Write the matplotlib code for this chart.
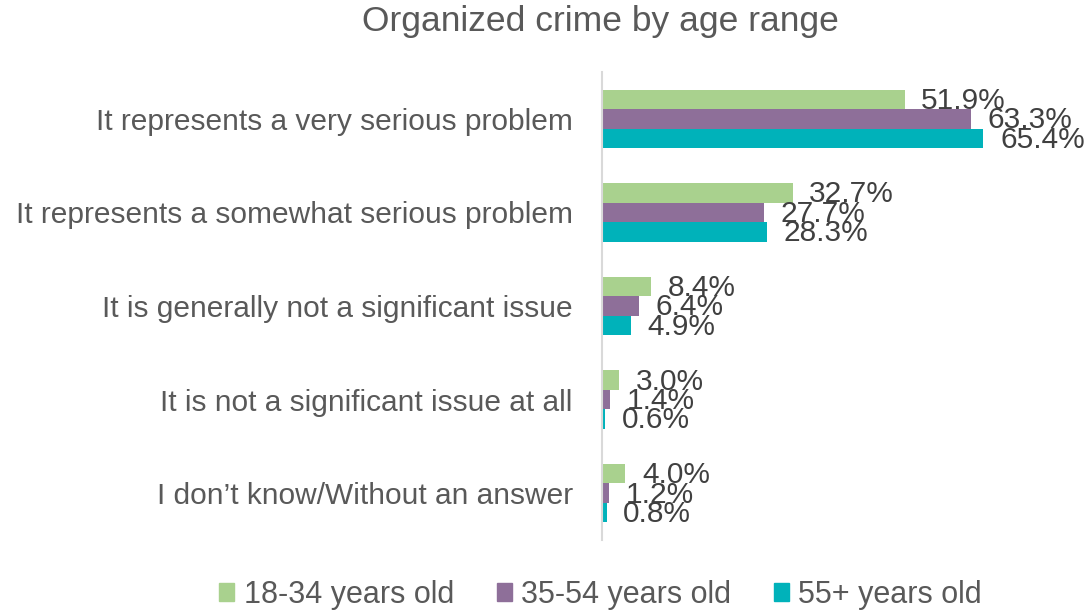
import numpy as np
import matplotlib.pyplot as plt
from matplotlib.patches import Patch

categories = ['It represents a very serious problem',
              'It represents a somewhat serious problem',
              'It is generally not a significant issue',
              'It is not a significant issue at all',
              'I don\u2019t know/Without an answer']
series_names = ['18-34 years old', '35-54 years old', '55+ years old']
young = [51.9, 32.7, 8.4, 3.0, 4.0]
middle = [63.3, 27.7, 6.4, 1.4, 1.2]
old = [65.4, 28.3, 4.9, 0.6, 0.8]
colors = ['#A9D18E', '#8E6F99', '#00B2BA']

plt.rcParams['font.family'] = ['Liberation Sans', 'DejaVu Sans']

fig = plt.figure(figsize=(10.86, 6.10), dpi=100)
ax = fig.add_axes([602/1086, 70/610, 1 - 602/1086, 468/610])

y = np.arange(len(categories))
h = 0.208
for i, vals in enumerate([young, middle, old]):
    pos = y + (i - 1) * h
    ax.barh(pos, vals, height=h, color=colors[i], edgecolor='none')
    for p, v in zip(pos, vals):
        ax.annotate('%.1f%%' % v, (v, p), xytext=(12, -1), textcoords='offset points',
                    ha='left', va='center', fontsize=21.5, color='#404040', clip_on=False)

ax.set_ylim(len(categories) - 0.5, -0.5)
ax.set_xlim(0, 83)
ax.set_yticks(y)
ax.set_yticklabels(categories, fontsize=21.5, color='#595959')
ax.tick_params(axis='y', length=0, pad=21)
ax.set_xticks([])
for s in ['top', 'right', 'bottom']:
    ax.spines[s].set_visible(False)
ax.spines['left'].set_color('#D9D9D9')
ax.spines['left'].set_linewidth(1.5)

fig.text(0.553, 0.965, 'Organized crime by age range', ha='center', va='center',
         fontsize=25.5, color='#595959')

handles = [Patch(color=c) for c in colors]
fig.legend(handles, series_names, loc='center', bbox_to_anchor=(0.553, 0.025),
           ncol=3, frameon=False, fontsize=22, labelcolor='#595959',
           handlelength=0.5, handleheight=0.5, handletextpad=0.3, columnspacing=1.4)

fig.savefig('out.png', dpi=100)
